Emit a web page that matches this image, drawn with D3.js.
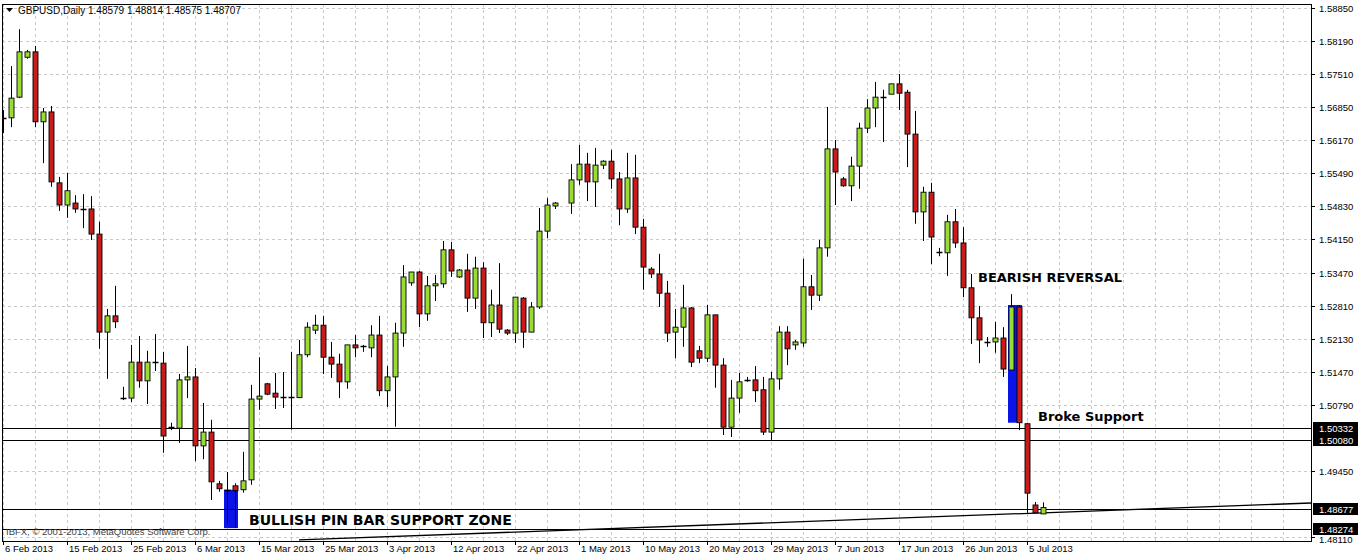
<!DOCTYPE html>
<html><head><meta charset="utf-8">
<script src="https://cdn.jsdelivr.net/npm/d3@7"></script>
<style>body{margin:0;background:#fff}svg{display:block;font-family:"Liberation Sans",Arial,sans-serif}</style>
</head><body><svg id="c" width="1358" height="557"></svg>
<script>
const openP=[1.5662,1.5662,1.5704,1.5785,1.5796,1.5654,1.5674,1.5530,1.5485,1.5489,1.5477,1.5477,1.5426,1.5227,1.5260,1.5093,1.5093,1.5166,1.5128,1.5166,1.5164,1.5034,1.5032,1.5130,1.5136,1.4996,1.5024,1.4919,1.4907,1.4915,1.4907,1.4927,1.5091,1.5122,1.5103,1.5096,1.5096,1.5094,1.5181,1.5231,1.5241,1.5176,1.5162,1.5126,1.5201,1.5198,1.5195,1.5221,1.5108,1.5136,1.5225,1.5327,1.5349,1.5264,1.5321,1.5325,1.5394,1.5339,1.5353,1.5296,1.5357,1.5246,1.5282,1.5231,1.5225,1.5296,1.5227,1.5278,1.5432,1.5483,null,1.5489,1.5536,1.5568,1.5532,1.5566,1.5574,1.5538,1.5477,1.5540,1.5440,1.5355,1.5345,1.5306,1.5227,1.5237,1.5276,1.5189,1.5174,1.5262,1.5160,1.5034,1.5093,1.5130,1.5130,1.5110,1.5024,1.5132,1.5227,1.5201,1.5205,1.5319,1.5302,1.5398,1.5599,1.5538,1.5524,1.5564,1.5641,1.5682,1.5704,1.5710,1.5731,1.5714,1.5629,1.5471,1.5511,1.5390,1.5388,1.5451,1.5408,1.5317,1.5256,1.5207,1.5207,1.5215,1.5150,1.5278,1.5041,1.4876,1.48579];
const highP=[1.5678,1.5767,1.5842,1.5800,1.5808,1.5682,1.5686,1.5542,1.5550,1.5505,1.5507,1.5503,1.5451,1.5274,1.5321,1.5116,1.5201,1.5219,1.5189,1.5223,1.5187,1.5043,1.5142,1.5199,1.5154,1.5083,1.5049,1.4925,1.4943,1.4920,1.4984,1.5120,1.5176,1.5124,1.5144,1.5146,1.5187,1.5211,1.5247,1.5262,1.5260,1.5207,1.5183,1.5201,1.5221,1.5201,1.5241,1.5260,1.5158,1.5246,1.5363,1.5349,1.5351,1.5341,1.5343,1.5412,1.5410,1.5355,1.5386,1.5380,1.5369,1.5313,1.5367,1.5233,1.5298,1.5298,1.5288,1.5479,1.5499,1.5491,null,1.5568,1.5607,1.5591,1.5601,1.5576,1.5597,1.5552,1.5591,1.5587,1.5457,1.5359,1.5386,1.5331,1.5274,1.5323,1.5278,1.5199,1.5282,1.5262,1.5174,1.5130,1.5144,1.5136,1.5158,1.5136,1.5146,1.5239,1.5239,1.5211,1.5376,1.5343,1.5414,1.5684,1.5617,1.5542,1.5583,1.5652,1.5700,1.5735,1.5719,1.5731,1.5751,1.5719,1.5676,1.5522,1.5530,1.5398,1.5465,1.5477,1.5440,1.5345,1.5280,1.5217,1.5248,1.5237,1.5304,1.5282,1.5043,1.4882,1.48814];
const lowP=[1.5631,1.5643,1.5702,1.5782,1.5643,1.5570,1.5522,1.5473,1.5459,1.5469,1.5438,1.5414,1.5193,1.5132,1.5235,1.5089,1.5085,1.5114,1.5081,1.5148,1.4982,1.5028,1.5002,1.5093,1.4965,1.4969,1.4886,1.4903,1.4840,1.4830,1.4901,1.4917,1.5069,1.5099,1.5071,1.5073,1.5029,1.5093,1.5176,1.5223,1.5142,1.5134,1.5093,1.5112,1.5176,1.5187,1.5176,1.5097,1.5075,1.5035,1.5197,1.5321,1.5237,1.5250,1.5290,1.5317,1.5339,1.5337,1.5268,1.5274,1.5215,1.5217,1.5225,1.5221,1.5205,1.5195,1.5227,1.5274,1.5418,1.5477,null,1.5467,1.5526,1.5493,1.5481,1.5558,1.5518,1.5444,1.5469,1.5426,1.5313,1.5337,1.5278,1.5207,1.5174,1.5197,1.5156,1.5164,1.5166,1.5114,1.5018,1.5014,1.5063,1.5126,1.5085,1.5018,1.5008,1.5110,1.5160,1.5191,1.5197,1.5272,1.5290,1.5380,1.5485,1.5522,1.5493,1.5518,1.5631,1.5643,1.5613,1.5710,1.5678,1.5562,1.5447,1.5412,1.5365,1.5381,1.5341,1.5398,1.5298,1.5203,1.5164,1.5197,1.5185,1.5136,1.5150,1.5028,1.4860,1.4860,1.48575];
const closeP=[1.5662,1.5702,1.5796,1.5796,1.5654,1.5674,1.5532,1.5485,1.5514,1.5477,1.5477,1.5426,1.5227,1.5260,1.5248,1.5093,1.5166,1.5128,1.5166,1.5166,1.5016,1.5034,1.5130,1.5136,1.4996,1.5024,1.4923,1.4909,1.4907,1.4905,1.4925,1.5091,1.5097,1.5101,1.5095,1.5096,1.5096,1.5181,1.5237,1.5241,1.5176,1.5162,1.5126,1.5201,1.5195,1.5198,1.5221,1.5108,1.5136,1.5225,1.5339,1.5349,1.5264,1.5321,1.5325,1.5394,1.5351,1.5353,1.5296,1.5357,1.5246,1.5282,1.5233,1.5225,1.5298,1.5227,1.5278,1.5432,1.5485,1.5489,null,1.5536,1.5568,1.5532,1.5566,1.5574,1.5538,1.5477,1.5540,1.5440,1.5359,1.5345,1.5306,1.5225,1.5237,1.5276,1.5166,1.5174,1.5262,1.5160,1.5034,1.5093,1.5126,1.5130,1.5108,1.5024,1.5132,1.5227,1.5193,1.5207,1.5319,1.5302,1.5398,1.5599,1.5552,1.5524,1.5564,1.5641,1.5682,1.5704,1.5704,1.5731,1.5712,1.5629,1.5471,1.5511,1.5420,1.5390,1.5451,1.5408,1.5317,1.5256,1.5211,1.5207,1.5215,1.5152,1.5278,1.5043,1.4900,1.4860,1.48707];
const dateLabels=["6 Feb 2013","15 Feb 2013","25 Feb 2013","6 Mar 2013","15 Mar 2013","25 Mar 2013","3 Apr 2013","12 Apr 2013","22 Apr 2013","1 May 2013","10 May 2013","20 May 2013","29 May 2013","7 Jun 2013","17 Jun 2013","26 Jun 2013","5 Jul 2013"];
const priceTicks=[1.58850,1.58190,1.57510,1.56850,1.56170,1.55490,1.54830,1.54150,1.53470,1.52810,1.52130,1.51470,1.50790,1.49450,1.48110];
const hLevels=[1.50332,1.50080,1.48677,1.48274];
const trendIdx=[37,163.5], trendPrice=[1.4805,1.4880];
const boxes=[{i0:28,i1:29,p0:1.4907,p1:1.4829},{i0:126,i1:127,p0:1.5282,p1:1.5043}];

const svg=d3.select("#c");
const L=2,R=1311,T=4,B=541;
const x=d3.scaleLinear().domain([0,1]).range([3,11]);
const y=d3.scaleLinear().domain([1.4811,1.5885]).range([537,8]);
svg.append("clipPath").attr("id","cl").append("rect").attr("x",L).attr("y",T).attr("width",R-L).attr("height",B-T);
const g=svg.append("g").attr("clip-path","url(#cl)");
const gridC="#c8c8c8";
for(let i=0;i<=170;i+=4) g.append("line").attr("x1",x(i)+0.5).attr("x2",x(i)+0.5).attr("y1",T).attr("y2",B).attr("stroke",gridC).attr("stroke-dasharray","3,3");
priceTicks.forEach(p=>g.append("line").attr("x1",L).attr("x2",R).attr("y1",Math.round(y(p))+0.5).attr("y2",Math.round(y(p))+0.5).attr("stroke",gridC).attr("stroke-dasharray","3,3"));
boxes.forEach(b=>g.append("rect").attr("x",x(b.i0)-3).attr("width",x(b.i1)-x(b.i0)+6).attr("y",y(b.p0)).attr("height",y(b.p1)-y(b.p0)).attr("fill","#0a14e6"));
hLevels.forEach(p=>g.append("line").attr("x1",L).attr("x2",R).attr("y1",Math.round(y(p))+0.5).attr("y2",Math.round(y(p))+0.5).attr("stroke","#000"));
g.append("line").attr("x1",x(trendIdx[0])).attr("x2",x(trendIdx[1])).attr("y1",y(trendPrice[0])).attr("y2",y(trendPrice[1])).attr("stroke","#000").attr("stroke-width",1.3);
openP.forEach((o,i)=>{
  if(o==null) return;
  const c=closeP[i],h=highP[i],l=lowP[i],cx=Math.round(x(i))+0.5;
  g.append("line").attr("x1",cx).attr("x2",cx).attr("y1",y(h)).attr("y2",y(l)).attr("stroke","#000");
  const top=y(Math.max(o,c)),bot=y(Math.min(o,c));
  if(bot-top<1.5){ g.append("line").attr("x1",cx-3).attr("x2",cx+3).attr("y1",Math.round(top)+0.5).attr("y2",Math.round(top)+0.5).attr("stroke","#000").attr("stroke-width",1.5); return;}
  g.append("rect").attr("x",cx-2.5).attr("y",top).attr("width",5).attr("height",bot-top).attr("fill",c>=o?"#99dd33":"#cc1a1a").attr("stroke","#000").attr("stroke-width",0.9);
});
svg.append("rect").attr("x",L+0.5).attr("y",T+0.5).attr("width",R-L).attr("height",B-T).attr("fill","none").attr("stroke","#000");
priceTicks.forEach((p,k)=>{const yy=Math.round(y(p));
  svg.append("line").attr("x1",R).attr("x2",R+4).attr("y1",yy+0.5).attr("y2",yy+0.5).attr("stroke","#000");
  svg.append("text").attr("x",R+8).attr("y",yy+(k===priceTicks.length-1?6:4)).attr("font-size",9.5).text(p.toFixed(5));});
hLevels.forEach(p=>{const yy=Math.round(y(p));
  svg.append("rect").attr("x",R+2).attr("y",yy-6).attr("width",45).attr("height",12).attr("fill","#000");
  svg.append("text").attr("x",R+8).attr("y",yy+4).attr("font-size",9.5).attr("fill","#fff").text(p.toFixed(5));});
dateLabels.forEach((d,k)=>{const xx=Math.round(x(k*8));
  svg.append("line").attr("x1",xx+0.5).attr("x2",xx+0.5).attr("y1",B).attr("y2",B+4).attr("stroke","#000");
  svg.append("text").attr("x",xx+2).attr("y",B+11).attr("font-size",9.5).text(d);});
svg.append("path").attr("d","M6,8 L13,8 L9.5,12 Z").attr("fill","#000");
svg.append("text").attr("x",18).attr("y",14).attr("font-size",10).text("GBPUSD,Daily  1.48579 1.48814 1.48575 1.48707");
svg.append("text").attr("x",6).attr("y",535).attr("font-size",9.5).attr("fill","#444").text("IBFX, © 2001-2013, MetaQuotes Software Corp.");
const lab=(t,xx,yy,fs)=>svg.append("text").attr("x",xx).attr("y",yy).attr("font-size",fs).attr("font-weight","bold").attr("font-family","'DejaVu Sans',sans-serif").text(t);
lab("BEARISH REVERSAL",978,282,13);
lab("Broke Support",1038,421,13);
lab("BULLISH PIN BAR SUPPORT ZONE",249,525,14);
</script></body></html>
